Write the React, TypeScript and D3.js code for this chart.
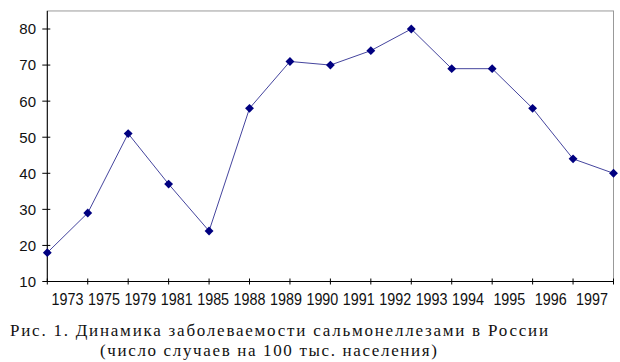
import React from "react";
import * as d3 from "d3";

const years: string[] = ["1973","1975","1979","1981","1985","1988","1989","1990","1991","1992","1993","1994","1995","1996","1997"];
const values: number[] = [18, 29, 51, 37, 24, 58, 71, 70, 74, 80, 69, 69, 58, 44, 40];
const yTicks: number[] = [10, 20, 30, 40, 50, 60, 70, 80];
const captionLine1 = "Рис. 1. Динамика заболеваемости сальмонеллезами в России";
const captionLine2 = "(число случаев на 100 тыс. населения)";

export default function App() {
  const W = 620, H = 362;
  const left = 47.3, right = 613.5, bottom = 281.5;
  const x = d3.scalePoint<string>().domain(years).range([left, right]);
  const y = d3.scaleLinear().domain([10, 80]).range([bottom, 29]);
  const top = y(85);
  // label positions along the category axis (as printed in the source)
  const lx = d3.scaleLinear().domain([0, 11, 14]).range([67.5, 468, 592]);
  const line = d3.line<number>().x((_, i) => x(years[i]) as number).y((d) => y(d));
  const diamond = d3.symbol().type(d3.symbolDiamond2).size(50)();
  const font = "'Liberation Sans', Arial, sans-serif";
  const serif = "'Liberation Serif', 'Times New Roman', serif";

  return (
    <svg width={W} height={H} style={{ position: "absolute", left: 0, top: 0, background: "#fff" }}>
      <rect x={left} y={top} width={right - left} height={bottom - top} fill="#fff" stroke="#999" strokeWidth={1} />
      <line x1={left} y1={top} x2={left} y2={bottom} stroke="#000" strokeWidth={1} />
      <line x1={left} y1={bottom} x2={right} y2={bottom} stroke="#000" strokeWidth={1} />
      {yTicks.map((t) => (
        <g key={t}>
          <line x1={left - 5} x2={left + 3} y1={y(t)} y2={y(t)} stroke="#000" />
          <text x={36} y={y(t)} dy="0.36em" textAnchor="end" fontFamily={font} fontSize={15} fill="#111">{t}</text>
        </g>
      ))}
      {years.map((yr, i) => (
        <g key={yr}>
          <line x1={x(yr)} x2={x(yr)} y1={bottom - 3} y2={bottom + 3} stroke="#000" />
          <text transform={`translate(${lx(i)},${bottom + 23}) scale(0.88,1)`} textAnchor="middle" fontFamily={font} fontSize={16.3} fill="#111">{yr}</text>
        </g>
      ))}
      <path d={line(values) || ""} fill="none" stroke="#45459e" strokeWidth={1} />
      {values.map((v, i) => (
        <path key={i} d={diamond || ""} transform={`translate(${x(years[i])},${y(v)})`} fill="#000080" />
      ))}
      <text x={10} y={336} fontFamily={serif} fontSize={17} fill="#111" textLength={538} lengthAdjust="spacing">{captionLine1}</text>
      <text x={100} y={356} fontFamily={serif} fontSize={17} fill="#111" textLength={337} lengthAdjust="spacing">{captionLine2}</text>
    </svg>
  );
}
